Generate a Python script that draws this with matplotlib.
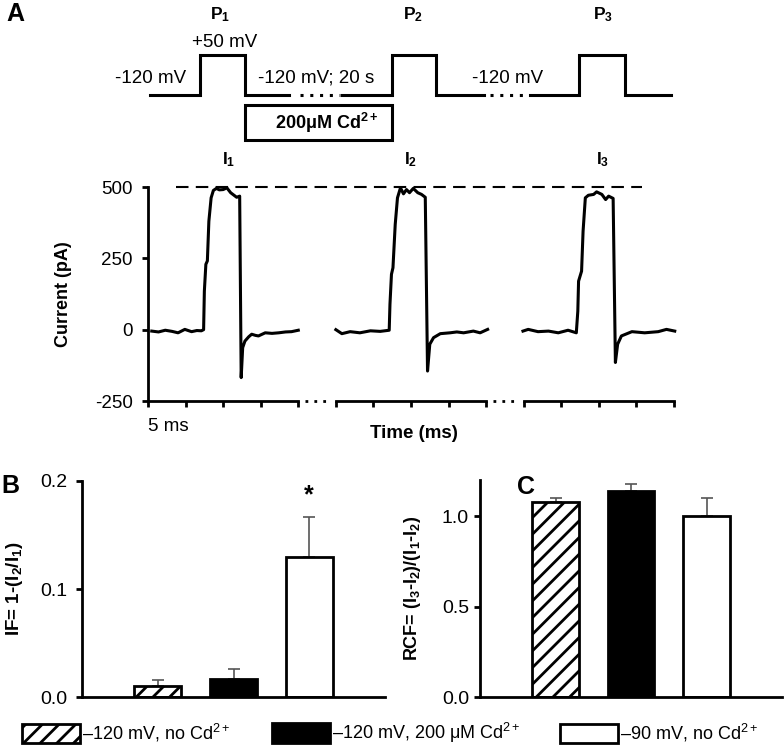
import matplotlib
matplotlib.use('Agg')
import matplotlib.pyplot as plt
from matplotlib.patches import Rectangle

plt.rcParams['font.family'] = ['Liberation Sans', 'DejaVu Sans']
plt.rcParams['mathtext.fontset'] = 'custom'
plt.rcParams['mathtext.rm'] = 'Liberation Sans'
plt.rcParams['mathtext.it'] = 'Liberation Sans:italic'
plt.rcParams['mathtext.bf'] = 'Liberation Sans:bold'
plt.rcParams['axes.unicode_minus'] = False
plt.rcParams['hatch.linewidth'] = 2.0

# --- Panel A: voltage protocol (time in ms, voltage in mV) ---
prot_t = [[0.3, 6.9, 6.9, 12.9, 12.9, 18.7],
          [25.8, 32.5, 32.5, 38.3, 38.3, 44.7],
          [50.9, 57.4, 57.4, 63.5, 63.5, 69.6]]
prot_v = [-120, -120, 50, 50, -120, -120]
prot_gaps = [(20.2, 25.6), (45.5, 50.6)]
cd_window = (12.9, 32.5)

# --- Panel A: current traces (pA) ---
trace1_t = [0.5, 1.4, 2.3, 3.2, 4.0, 4.9, 5.8, 6.5, 7.1, 7.4, 7.5, 7.7, 7.9, 8.1,
            8.4, 8.7, 9.1, 9.5, 10.0, 10.5, 11.0, 11.4, 11.8, 12.2, 12.4, 12.6,
            12.9, 13.4, 13.8, 14.3, 14.7, 15.6, 16.5, 17.4, 18.3, 19.1, 20.0]
trace1_i = [-5, -8, -2, -6, -11, 1, -7, -3, -4, 0, 135, 229, 241, 380,
            462, 488, 495, 490, 491, 497, 480, 472, 464, 468, -168, -63,
            -40, -25, -16, -20, -22, -11, -13, -11, -8, -7, -2]
trace2_t = [25.0, 25.8, 26.9, 28.2, 29.6, 30.9, 32.1, 32.2, 32.4, 32.6, 32.9,
            33.2, 33.6, 34.0, 34.4, 34.8, 35.3, 35.9, 36.4, 36.9, 37.2, 37.5,
            38.0, 38.9, 40.2, 41.1, 42.0, 43.3, 44.2, 45.2]
trace2_i = [0, -14, -7, -11, -4, -6, -2, 89, 194, 217, 369,
            462, 497, 476, 491, 480, 495, 480, 474, 464, -145, -51,
            -28, -14, -11, -8, -11, -5, -11, 1]
trace3_t = [49.9, 50.6, 51.9, 53.3, 54.6, 55.9, 57.0, 57.2, 57.3, 57.7, 57.9,
            58.2, 58.6, 59.3, 59.7, 60.4, 60.9, 61.3, 61.9, 62.2, 62.5, 63.0,
            64.4, 66.1, 67.9, 69.0, 70.1]
trace3_i = [-5, 1, -7, -5, -11, -2, -11, 65, 170, 205, 345,
            462, 471, 474, 483, 474, 456, 468, 460, -115, -51, -22,
            -7, -11, -7, 1, -5]
peak_ref = 500
axis_segments = [(0, 20), (25, 45), (50, 70)]
axis_gaps = [(20.9, 24.3), (45.9, 49.3)]

# --- Panels B and C ---
conditions = ['\u2013120 mV, no Cd$^{2+}$',
              '\u2013120 mV, 200 \u03bcM Cd$^{2+}$',
              '\u201390 mV, no Cd$^{2+}$']
if_mean = [0.010, 0.017, 0.130]
if_sem = [0.006, 0.009, 0.037]
rcf_mean = [1.08, 1.14, 1.00]
rcf_sem = [0.02, 0.04, 0.10]

W, H = 784, 748
fig = plt.figure(figsize=(W / 100, H / 100), dpi=100)


def px_rect(left, top, right, bottom):
    return [left / W, 1 - bottom / H, (right - left) / W, (bottom - top) / H]


LW = 2.2
FS = 13.5

# protocol
ax_v = fig.add_axes(px_rect(148, 0, 674, 150))
ax_v.axis('off')
ax_v.set_xlim(0, 70)
ax_v.set_ylim(-353.75, 283.75)
for t in prot_t:
    ax_v.plot(t, prot_v, color='k', lw=LW, solid_joinstyle='miter')
for a, b in prot_gaps:
    ax_v.plot([a, b], [-120, -120], color='k', lw=LW, ls=(0, (1, 2.2)))
ax_v.add_patch(Rectangle((cd_window[0], -311), cd_window[1] - cd_window[0], 148.5,
                         fill=False, lw=LW, ec='k', joinstyle='miter'))
ax_v.text(23.8, -240, '200\u03bcM Cd$^{\\mathbf{2+}}$', ha='center', va='center',
          fontsize=13, fontweight='bold')
for x, lab in [(9.6, '1'), (35.3, '2'), (60.5, '3')]:
    ax_v.text(x, 220, 'P$_{\\mathbf{%s}}$' % lab, ha='center', va='center',
              fontsize=12.5, fontweight='bold')
ax_v.text(10.25, 105, '+50 mV', ha='center', va='center', fontsize=FS)
ax_v.text(0.4, -48, '-120 mV', ha='center', va='center', fontsize=FS)
ax_v.text(22.4, -48, '-120 mV; 20 s', ha='center', va='center', fontsize=FS)
ax_v.text(47.9, -48, '-120 mV', ha='center', va='center', fontsize=FS)

# current traces
ax_i = fig.add_axes(px_rect(148, 187, 674, 401))
for t, i in [(trace1_t, trace1_i), (trace2_t, trace2_i), (trace3_t, trace3_i)]:
    ax_i.plot(t, i, color='k', lw=LW, clip_on=False)
ax_i.plot([3.7, 65.8], [peak_ref, peak_ref], color='k', lw=1.5,
          dashes=(6, 3.5), clip_on=False)
for a, b in axis_segments:
    ax_i.plot([a, b], [-250, -250], color='k', lw=2, clip_on=False,
              solid_capstyle='projecting')
for a, b in axis_gaps:
    ax_i.plot([a, b], [-250, -250], color='k', lw=2, ls=(0, (1, 2.2)), clip_on=False)
ax_i.set_xlim(0, 70)
ax_i.set_ylim(-250, 500)
ax_i.set_yticks([-250, 0, 250, 500])
ax_i.set_xticks(range(0, 71, 5))
ax_i.set_xticklabels([])
for s in ['top', 'right', 'bottom']:
    ax_i.spines[s].set_visible(False)
ax_i.spines['left'].set_linewidth(2)
ax_i.tick_params(axis='both', width=2, length=4, labelsize=FS, direction='out')
ax_i.tick_params(axis='y', pad=7)
ax_i.set_ylabel('Current (pA)', fontsize=13, fontweight='bold')
ax_i.yaxis.set_label_coords(-0.1445, 0.5)
for x, lab in [(10.7, '1'), (34.9, '2'), (60.5, '3')]:
    ax_i.text(x, 595, 'I$_{\\mathbf{%s}}$' % lab, ha='center', va='center',
              fontsize=12.5, fontweight='bold')
fig.text(148 / W, 1 - 427 / H, '5 ms', ha='left', va='center', fontsize=FS)
fig.text(414 / W, 1 - 433 / H, 'Time (ms)', ha='center', va='center',
         fontsize=FS, fontweight='bold')


def bar_panel(ax, means, sems, ylim, yticks, pad):
    ax.errorbar([1, 2, 3], means, yerr=[[0, 0, 0], sems], fmt='none',
                ecolor='#555555', elinewidth=1.2, capsize=4, capthick=1.2, zorder=1)
    bars = ax.bar([1, 2, 3], means, width=0.62, color=['white', 'black', 'white'],
                  edgecolor='black', linewidth=2, zorder=2)
    bars[0].set_hatch('//')
    ax.set_xlim(0, 4)
    ax.set_ylim(*ylim)
    ax.set_yticks(yticks)
    ax.set_yticklabels(['%.1f' % v for v in yticks])
    ax.set_xticks([])
    for s in ['top', 'right']:
        ax.spines[s].set_visible(False)
    for s in ['left', 'bottom']:
        ax.spines[s].set_linewidth(2)
    ax.tick_params(axis='y', width=2, length=4.5, labelsize=14, direction='out', pad=pad)
    return bars


ax_b = fig.add_axes(px_rect(82, 481, 385, 697))
bars = bar_panel(ax_b, if_mean, if_sem, (0, 0.2), [0.0, 0.1, 0.2], 6)
ax_b.text(3, 0.187, '*', ha='center', va='center', fontsize=18, fontweight='bold')
ax_b.set_ylabel('IF= 1-(I$_{\\mathbf{2}}$/I$_{\\mathbf{1}}$)', fontsize=13.5,
                fontweight='bold')
ax_b.yaxis.set_label_coords(-0.188, 0.5)

ax_c = fig.add_axes(px_rect(480, 480, 782, 697))
bar_panel(ax_c, rcf_mean, rcf_sem, (0, 1.2), [0.0, 0.5, 1.0], 3.5)
ax_c.set_ylabel('RCF= (I$_{\\mathbf{3}}$-I$_{\\mathbf{2}}$)/(I$_{\\mathbf{1}}$-I$_{\\mathbf{2}}$)',
                fontsize=13, fontweight='bold')
ax_c.yaxis.set_label_coords(-0.189, 0.5)

# panel letters
fig.text(15 / W, 1 - 14 / H, 'A', ha='center', va='center', fontsize=18, fontweight='bold')
fig.text(10 / W, 1 - 486 / H, 'B', ha='center', va='center', fontsize=18, fontweight='bold')
fig.text(526 / W, 1 - 487 / H, 'C', ha='center', va='center', fontsize=18, fontweight='bold')

# legend entries
for bar, lab, x0 in zip(bars, conditions, [22, 272, 560]):
    fig.legend([bar], [lab], loc='center left', bbox_to_anchor=(x0 / W, 1 - 733 / H),
               frameon=False, fontsize=13, handlelength=3.2, handleheight=1.25,
               handletextpad=0.12, borderpad=0, borderaxespad=0)

fig.savefig('out.png', dpi=100)
